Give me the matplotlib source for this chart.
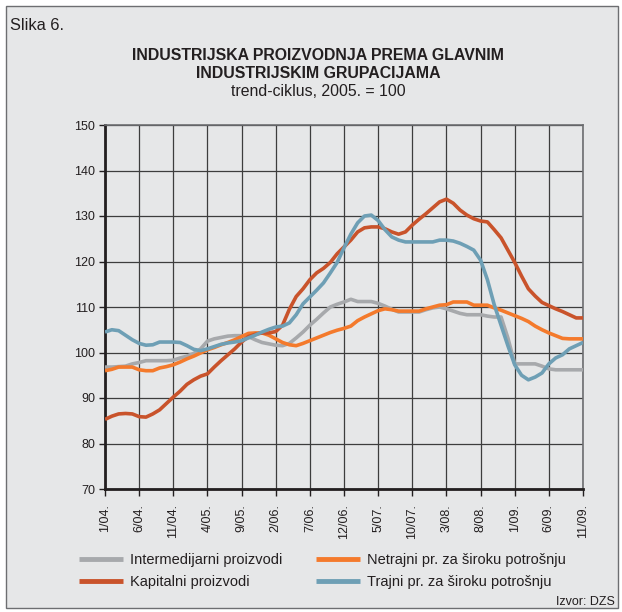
import matplotlib
matplotlib.use("Agg")
import matplotlib.pyplot as plt
from matplotlib.patches import Rectangle
import numpy as np

plt.rcParams['font.family'] = ['Liberation Sans', 'DejaVu Sans']

# Months Jan 2004 .. Nov 2009 (71 months)
tick_labels = ["1/04.", "6/04.", "11/04.", "4/05.", "9/05.", "2/06.", "7/06.", "12/06.",
               "5/07.", "10/07.", "3/08.", "8/08.", "1/09.", "6/09.", "11/09."]

intermedijarni = [96.8, 96.8, 96.9, 97.0, 97.5, 97.8, 98.2, 98.2, 98.2, 98.2,
                  98.3, 98.8, 99.2, 99.8, 100.8, 102.5, 103.0, 103.3, 103.6, 103.7,
                  103.7, 103.5, 102.8, 102.2, 101.9, 101.6, 101.5, 102.0, 103.2, 104.5,
                  106.0, 107.3, 108.7, 110.0, 110.6, 111.1, 111.7, 111.2, 111.2, 111.2,
                  110.8, 110.2, 109.5, 108.9, 108.9, 108.9, 108.9, 109.4, 109.8, 110.0,
                  109.6, 109.1, 108.6, 108.3, 108.3, 108.3, 108.0, 107.8, 107.8, 103.2,
                  97.5, 97.5, 97.5, 97.5, 97.0, 96.4, 96.2, 96.2, 96.2, 96.2, 96.2]

kapitalni = [85.3, 86.0, 86.5, 86.6, 86.5, 85.9, 85.8, 86.5, 87.4, 88.8,
             90.2, 91.5, 93.0, 94.0, 94.8, 95.3, 96.8, 98.2, 99.5, 100.8,
             102.3, 103.5, 104.0, 104.3, 104.3, 104.6, 106.0, 109.5, 112.3, 114.0,
             116.0, 117.5, 118.5, 119.8, 121.7, 123.2, 124.7, 126.5, 127.4, 127.6,
             127.6, 127.2, 126.5, 126.0, 126.5, 128.0, 129.3, 130.5, 131.8, 133.1,
             133.7, 132.8, 131.3, 130.2, 129.4, 128.9, 128.7, 127.0, 125.2, 122.5,
             119.8, 116.8, 114.0, 112.4, 111.0, 110.3, 109.6, 109.0, 108.3, 107.6, 107.6]

netrajni = [96.0, 96.3, 96.8, 96.8, 96.8, 96.2, 96.0, 96.0, 96.6, 96.9,
            97.3, 97.9, 98.6, 99.2, 99.9, 100.6, 101.1, 101.7, 102.2, 102.8,
            103.5, 104.2, 104.3, 104.3, 103.8, 103.0, 102.2, 101.7, 101.5, 102.0,
            102.6, 103.2, 103.8, 104.4, 104.9, 105.3, 105.8, 107.0, 107.8, 108.5,
            109.2, 109.6, 109.4, 109.1, 109.1, 109.1, 109.1, 109.6, 110.0, 110.4,
            110.5, 111.1, 111.1, 111.1, 110.4, 110.4, 110.4, 109.8, 109.3, 108.7,
            108.1, 107.5, 106.8, 105.8, 105.0, 104.3, 103.7, 103.1, 103.0, 103.0, 103.0]

trajni = [104.5, 105.0, 104.8, 103.8, 102.8, 102.0, 101.6, 101.7, 102.3, 102.3,
          102.3, 102.2, 101.5, 100.7, 100.4, 100.8, 101.3, 101.8, 102.1, 102.3,
          102.6, 103.2, 103.8, 104.5, 105.1, 105.6, 105.8, 106.5, 108.3, 110.7,
          112.2, 113.7, 115.3, 117.5, 119.8, 123.0, 126.0, 128.5, 130.0, 130.2,
          129.0, 127.0, 125.4, 124.7, 124.3, 124.3, 124.3, 124.3, 124.3, 124.7,
          124.7, 124.5, 124.0, 123.3, 122.5, 120.3, 116.0, 110.5, 106.0, 101.5,
          97.3, 95.0, 94.0, 94.6, 95.5, 97.5, 98.8, 99.5, 100.8, 101.5, 102.2]

series_names = ["Intermedijarni proizvodi", "Kapitalni proizvodi",
                "Netrajni pr. za široku potrošnju", "Trajni pr. za široku potrošnju"]
colors = ["#a7a9ac", "#c9532b", "#f47a2c", "#6e9fb5"]

bg = "#e6e7e8"
fig = plt.figure(figsize=(6.22, 6.12), dpi=100, facecolor="white")
fig.patches.append(Rectangle((6/622, 4/612), 612/622, 602/612, transform=fig.transFigure,
                             facecolor=bg, edgecolor="#6d6e71", linewidth=1.0, zorder=-10))

ax = fig.add_axes([105/622, 1 - 489/612, 478/622, 364/612])
ax.set_facecolor(bg)

x = np.arange(len(kapitalni))
data = [intermedijarni, kapitalni, netrajni, trajni]
# draw order: gray, orange, red, blue
order = [0, 2, 1, 3]
lines = {}
for i in order:
    ln, = ax.plot(x, data[i], color=colors[i], linewidth=2.6, solid_joinstyle='round',
                  solid_capstyle='butt', zorder=3)
    lines[i] = ln

ax.set_xlim(0, 70)
ax.set_ylim(70, 150)
ax.set_yticks(np.arange(70, 151, 10))
ax.set_xticks(np.arange(0, 71, 5))
ax.set_xticklabels(tick_labels, rotation=90)
ax.tick_params(axis='both', labelsize=9, colors="#231f20", length=5, width=1, direction='out')
ax.tick_params(axis='x', pad=6)
ax.tick_params(axis='y', pad=3, length=4)
ax.grid(True, color="#3d3d3d", linewidth=0.9, zorder=1)
ax.set_axisbelow(True)
for s in ['top', 'right']:
    ax.spines[s].set_color("#6d6e71")
    ax.spines[s].set_linewidth(1.2)
for s in ['left', 'bottom']:
    ax.spines[s].set_color("#231f20")
    ax.spines[s].set_linewidth(2.0)

fig.text(10/622, 1 - 26/612, "Slika 6.", fontsize=11.8, color="#231f20", va='center', ha='left')
fig.text(318/622, 1 - 55/612, "INDUSTRIJSKA PROIZVODNJA PREMA GLAVNIM", fontsize=11.4,
         fontweight='bold', color="#231f20", ha='center', va='center')
fig.text(318/622, 1 - 73/612, "INDUSTRIJSKIM GRUPACIJAMA", fontsize=11.4,
         fontweight='bold', color="#231f20", ha='center', va='center')
fig.text(318/622, 1 - 91/612, "trend-ciklus, 2005. = 100", fontsize=11.4,
         color="#231f20", ha='center', va='center')
fig.text(615/622, 1 - 602/612, "Izvor: DZS", fontsize=9, color="#231f20",
         ha='right', va='center')

handles = [lines[0], lines[1], lines[2], lines[3]]
leg = fig.legend(handles, series_names, loc='upper left', bbox_to_anchor=(72/622, 1 - 546/612),
                 ncol=2, frameon=False, fontsize=10.5, handlelength=3.0, handletextpad=0.5,
                 columnspacing=2.3, labelspacing=0.55, borderpad=0)
for t in leg.get_texts():
    t.set_color("#231f20")
for h in leg.legend_handles:
    h.set_linewidth(3.5)

fig.savefig("out.png", dpi=100, facecolor="white")
